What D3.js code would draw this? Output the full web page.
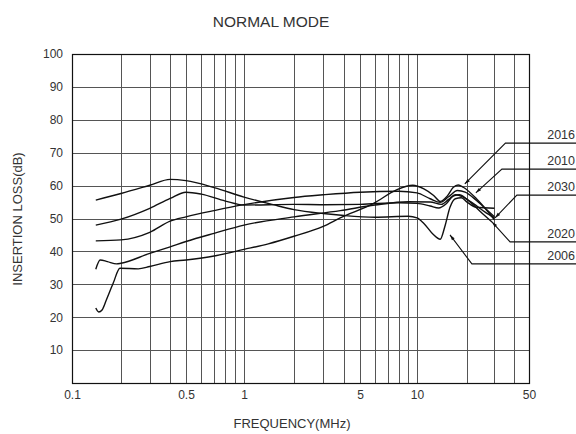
<!DOCTYPE html>
<html>
<head>
<meta charset="UTF-8">
<title>NORMAL MODE</title>
<script src="https://d3js.org/d3.v7.min.js"></script>
<style>
    body { margin: 0; background: #fff; }
    svg { display: block; font-family: "Liberation Sans", Arial, sans-serif; }
    .grid line { stroke: #555; stroke-width: 1; shape-rendering: crispEdges; }
    .axis text { font-size: 12px; fill: #333; }
    .curve { fill: none; stroke: #111; stroke-width: 1.4; }
    .callout { fill: none; stroke: #111; stroke-width: 1.1; }
</style>
</head>
<body>
<div id="chart"></div>
<script>
    // axis ticks
    let freqTicks = [0.1, 0.5, 1, 5, 10, 50];
    let freqGrid = [0.2, 0.3, 0.4, 0.5, 0.6, 0.7, 0.8, 0.9, 1, 2, 3, 4, 5, 6, 7, 8, 9, 10, 20, 30, 40];
    let dbTicks = [10, 20, 30, 40, 50, 60, 70, 80, 90, 100];

    // series: [frequency MHz, insertion loss dB]
    let s2006 = [[0.14,55.6],[0.2,57.6],[0.3,60.1],[0.4,61.9],[0.5,61.5],[0.7,59.4],[1,56.5],[1.5,54.2],[2,52.7],[3,51.5],[4,50.9],[6,50.4],[9,50.7],[10,50.2],[11,48.5],[12.5,45.2],[13.8,43.7],[14.7,47.5],[15.8,53.4],[17,56],[18.5,56.3],[20,55],[23,53.4],[30,53.1]];
    let s2020 = [[0.14,48],[0.2,49.8],[0.3,53.1],[0.4,56.1],[0.5,58],[0.6,57.4],[0.8,55.3],[1,54.1],[2,54.3],[3,54.2],[5,54.3],[8,54.8],[10,54.6],[12,53.8],[13.5,53.2],[15,54.5],[16.5,56.8],[18,57.2],[20,55.8],[25,51.6],[29,48.9]];
    let s2010 = [[0.14,43.2],[0.2,43.5],[0.3,45.8],[0.4,49.2],[0.5,50.5],[0.7,52.4],[1,54.2],[2,56.4],[3,57.2],[5,58],[8,58.3],[10,57.8],[12,56],[13.8,54.9],[15.5,56.6],[17.5,58.5],[19.5,58],[23,55.5],[27,52.5],[30,50.5]];
    let s2030 = [[0.14,34.6],[0.149,37.4],[0.165,36.9],[0.188,36.2],[0.2,36.4],[0.3,39.4],[0.4,41.4],[0.5,43],[0.7,45.5],[1,48],[2,50.5],[3.8,52.4],[6,54.1],[9,55.1],[12,55],[14,54.3],[15.5,55.8],[17,57.2],[19,56.5],[22,54.5],[26,52],[30,50.2]];
    let s2016 = [[0.14,22.8],[0.146,21.6],[0.153,22.2],[0.163,25.4],[0.179,30.3],[0.197,34.9],[0.255,34.7],[0.3,35.4],[0.4,36.9],[0.5,37.4],[0.7,38.6],[1,40.6],[1.4,42.3],[2,44.6],[3,47.6],[3.8,50.2],[5.9,54.6],[7.8,58.7],[9.5,60.1],[11,59],[12.6,57],[13.8,55.2],[15.2,56.8],[16.5,59.4],[17.7,60.2],[19,59.5],[23,56],[27,52.3],[30,49.6]];
    let seriesList = [s2006, s2020, s2010, s2030, s2016];

    // callouts: label, arrow tip [MHz, dB], elbow [MHz, dB]
    let calloutLabels = ["2016", "2010", "2030", "2020", "2006"];
    let calloutTips = [[19.4,60.5],[22.8,57.8],[30.3,50.2],[29.0,48.9],[15.8,45]];
    let calloutElbows = [[35.3,72.9],[33.5,65],[41.8,57.1],[37.8,42.9],[21.5,36.2]];

    let W = 576, H = 434;
    let svg = d3.select("#chart").append("svg").attr("width", W).attr("height", H);
    svg.append("rect").attr("width", W).attr("height", H).attr("fill", "#fff");

    // the printed log axis is not quite even, so follow its gridlines
    let x = d3.scaleLog()
        .domain([0.1, 0.2, 0.5, 1, 2, 5, 10, 20, 50])
        .range([72, 121, 186, 244, 294, 360, 417, 467, 529]);
    let y = d3.scaleLinear().domain([0, 100]).range([383, 54]);

    let grid = svg.append("g").attr("class", "grid");
    grid.selectAll(".v").data(freqGrid).enter().append("line")
        .attr("x1", d => Math.round(x(d)) + 0.5).attr("x2", d => Math.round(x(d)) + 0.5)
        .attr("y1", y(100)).attr("y2", y(0));
    grid.selectAll(".h").data(dbTicks.slice(0, -1)).enter().append("line")
        .attr("y1", d => Math.round(y(d)) + 0.5).attr("y2", d => Math.round(y(d)) + 0.5)
        .attr("x1", x(0.1)).attr("x2", x(50));

    svg.append("rect")
        .attr("x", x(0.1) + 0.5).attr("y", y(100) + 0.5)
        .attr("width", x(50) - x(0.1)).attr("height", y(0) - y(100))
        .attr("fill", "none").attr("stroke", "#111").attr("stroke-width", 1.2);

    // axes
    svg.append("g").attr("class", "axis")
        .attr("transform", "translate(" + (x(0.1) - 9) + ",0)")
        .call(d3.axisLeft(y).tickValues(dbTicks).tickSize(0).tickPadding(0))
        .call(g => g.select(".domain").remove());
    svg.append("g").attr("class", "axis")
        .attr("transform", "translate(0," + (y(0) + 7) + ")")
        .call(d3.axisBottom(x).tickValues(freqTicks).tickSize(0).tickPadding(0).tickFormat(d => String(d)))
        .call(g => g.select(".domain").remove());

    svg.append("text").attr("x", 271).attr("y", 27).attr("text-anchor", "middle")
        .attr("font-size", 15.5).attr("fill", "#333").text("NORMAL MODE");
    svg.append("text").attr("x", 292).attr("y", 428).attr("text-anchor", "middle")
        .attr("font-size", 13).attr("fill", "#333").text("FREQUENCY(MHz)");
    svg.append("text").attr("transform", "translate(22,219) rotate(-90)").attr("text-anchor", "middle")
        .attr("font-size", 13).attr("fill", "#333").text("INSERTION LOSS(dB)");

    // curves
    let line = d3.line().x(d => x(d[0])).y(d => y(d[1])).curve(d3.curveMonotoneX);
    svg.selectAll(".curve").data(seriesList).enter().append("path")
        .attr("class", "curve").attr("d", line);

    // callouts
    svg.append("defs").append("marker")
        .attr("id", "arrow").attr("viewBox", "0 0 10 10").attr("refX", 10).attr("refY", 5)
        .attr("markerWidth", 7).attr("markerHeight", 5).attr("orient", "auto")
        .append("path").attr("d", "M0,2 L10,5 L0,8 Z").attr("fill", "#111");

    calloutLabels.forEach((label, i) => {
        let tip = calloutTips[i], elbow = calloutElbows[i];
        let ex = x(elbow[0]), ey = y(elbow[1]);
        svg.append("path").attr("class", "callout")
            .attr("d", "M" + W + "," + ey + " L" + ex + "," + ey + " L" + x(tip[0]) + "," + y(tip[1]))
            .attr("marker-end", "url(#arrow)");
        svg.append("text").attr("x", W - 1).attr("y", ey - 4).attr("text-anchor", "end")
            .attr("font-size", 12.5).attr("fill", "#333").text(label);
    });
</script>
</body>
</html>
